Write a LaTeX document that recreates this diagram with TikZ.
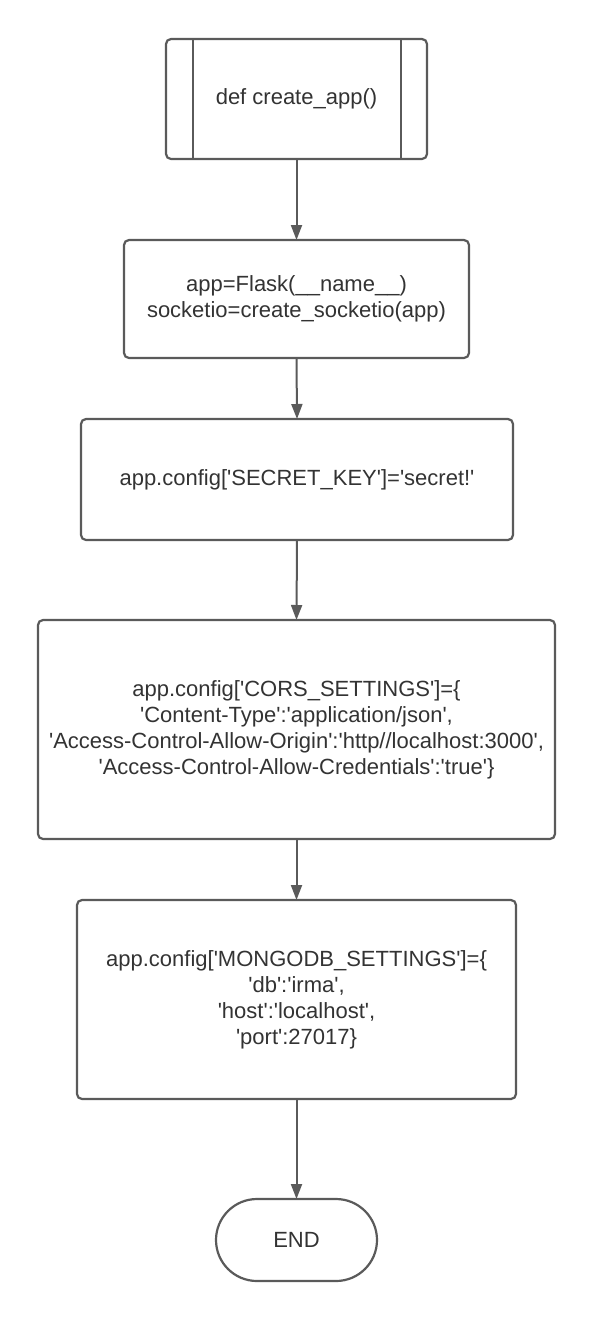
\documentclass[tikz,border=0pt]{standalone}
\usepackage{fontspec}
\setmainfont{Liberation Sans}[Ligatures=TeXOff]
\usetikzlibrary{arrows.meta}
\definecolor{edge}{HTML}{5A5A5A}
\definecolor{txt}{HTML}{333333}
\begin{document}
\begin{tikzpicture}[x=1pt,y=-1pt,
  box/.style={draw=edge,line width=2.2pt,rounded corners=5pt,fill=white},
  lbl/.style={text=txt,font=\fontsize{22}{26}\selectfont,align=center},
  conn/.style={draw=edge,line width=2pt,-{Triangle[length=15pt,width=11pt]}}]
\useasboundingbox (0,0) rectangle (595,1320);
% boxes
\draw[box] (166,39) rectangle (427,159);
\draw[draw=edge,line width=2.2pt] (193,39) -- (193,159) (401,39) -- (401,159);
\node[lbl] (n1) at (296.5,99) {def create\_app()};
\coordinate (n1b) at (296.5,159);
\draw[box] (124,240) rectangle (469,358);
\node[lbl] (n2) at (296.5,299) {app=Flask(\_\_name\_\_)\\socketio=create\_socketio(app)};
\coordinate (n2t) at (296.5,240); \coordinate (n2b) at (296.5,358);
\draw[box] (81,419) rectangle (513,540);
\node[lbl] (n3) at (297,480) {app.config['SECRET\_KEY']='secret!'};
\coordinate (n3t) at (297,419); \coordinate (n3b) at (297,540);
\draw[box] (38,620) rectangle (555,839);
\node[lbl] (n4) at (296.5,729.5) {app.config['CORS\_SETTINGS']=\{\\'Content-Type':'application/json',\\'Access-Control-Allow-Origin':'http//localhost:3000',\\'Access-Control-Allow-Credentials':'true'\}};
\coordinate (n4t) at (296.5,620); \coordinate (n4b) at (296.5,839);
\draw[box] (77,900) rectangle (516,1099);
\node[lbl] (n5) at (296.5,999.5) {app.config['MONGODB\_SETTINGS']=\{\\'db':'irma',\\'host':'localhost',\\'port':27017\}};
\coordinate (n5t) at (296.5,900); \coordinate (n5b) at (296.5,1099);
\draw[box,rounded corners=41pt] (216,1199) rectangle (377,1281);
\node[lbl] (n6) at (296.5,1240) {END};
\coordinate (n6t) at (296.5,1199);
% connectors
\draw[conn] (n1b) -- (n2t);
\draw[conn] (n2b) -- (n3t);
\draw[conn] (n3b) -- (n4t);
\draw[conn] (n4b) -- (n5t);
\draw[conn] (n5b) -- (n6t);
\end{tikzpicture}
\end{document}
